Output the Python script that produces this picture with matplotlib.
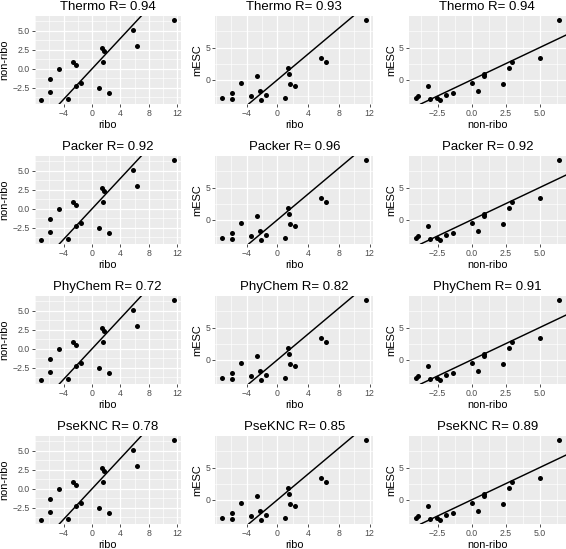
import matplotlib
matplotlib.use("Agg")
import matplotlib.pyplot as plt
from matplotlib.ticker import FixedLocator, FixedFormatter

# ---- data ----
ribo    = [-7.15, -5.9, -5.9, -4.72, -3.44, -2.72, -2.28, -2.2, -1.5, 0.95, 1.33, 1.68, 1.52, 2.33, 5.72, 6.32, 11.55]
nonribo = [-4.1, -3.1, -1.4, 0.0, -3.92, 0.92, 0.46, -2.32, -1.89, -2.54, 2.72, 2.28, 0.93, -3.18, 5.04, 2.94, 6.4]
mesc    = [-2.82, -2.97, -2.06, -0.47, -2.47, 0.63, -1.74, -3.13, -2.29, -2.81, 1.84, -0.69, 0.96, -0.92, 3.44, 2.81, 9.27]

methods = ["Thermo", "Packer", "PhyChem", "PseKNC"]
r_values = [[0.94, 0.93, 0.94],
            [0.92, 0.96, 0.92],
            [0.72, 0.82, 0.91],
            [0.78, 0.85, 0.89]]

pairs = [("ribo", "non-ribo"), ("ribo", "mESC"), ("non-ribo", "mESC")]
series = {"ribo": ribo, "non-ribo": nonribo, "mESC": mesc}
major = {"ribo": [-4, 0, 4, 8, 12], "non-ribo": [-2.5, 0.0, 2.5, 5.0], "mESC": [0, 5]}
minor = {"ribo": [-8, -6, -2, 2, 6, 10], "non-ribo": [-3.75, -1.25, 1.25, 3.75, 6.25], "mESC": [-2.5, 2.5, 7.5]}
labels = {"ribo": ["\u22124", "0", "4", "8", "12"],
          "non-ribo": ["\u22122.5", "0.0", "2.5", "5.0"],
          "mESC": ["0", "5"]}

plt.rcParams['font.family'] = ['Liberation Sans', 'DejaVu Sans']

W, H = 566, 549
fig = plt.figure(figsize=(W / 100, H / 100), dpi=100)

col_left = [34.7, 215.3, 408.8]
col_right = [180.7, 373.3, 565.9]
row_top = [16, 156, 296, 436]
panel_h = 88

def lims(v):
    lo, hi = min(v), max(v)
    d = (hi - lo) * 0.05
    return lo - d, hi + d

for i, m in enumerate(methods):
    for j, (xn, yn) in enumerate(pairs):
        l, r = col_left[j], col_right[j]
        t = row_top[i]
        ax = fig.add_axes([l / W, 1 - (t + panel_h) / H, (r - l) / W, panel_h / H])
        ax.set_facecolor("#EBEBEB")
        for s in ax.spines.values():
            s.set_visible(False)
        x = series[xn]
        y = series[yn]
        ax.set_xlim(*lims(x))
        ax.set_ylim(*lims(y))
        ax.xaxis.set_major_locator(FixedLocator(major[xn]))
        ax.xaxis.set_major_formatter(FixedFormatter(labels[xn]))
        ax.yaxis.set_major_locator(FixedLocator(major[yn]))
        ax.yaxis.set_major_formatter(FixedFormatter(labels[yn]))
        ax.xaxis.set_minor_locator(FixedLocator(minor[xn]))
        ax.yaxis.set_minor_locator(FixedLocator(minor[yn]))
        ax.grid(True, which="major", color="white", linewidth=0.9)
        ax.grid(True, which="minor", color="white", linewidth=0.45)
        ax.set_axisbelow(True)
        ax.tick_params(which="major", length=2.0, width=0.6, color="#333333",
                       labelsize=6.3, labelcolor="#4D4D4D", pad=1.6)
        ax.tick_params(which="minor", length=0)
        ax.plot(x, y, "o", color="black", markersize=3.6, markeredgewidth=0, zorder=3)
        ax.axline((0, 0), slope=1, color="black", linewidth=1.05, zorder=2)
        ax.set_xlabel(xn, fontsize=7.9, labelpad=1.3)
        ax.set_ylabel(yn, fontsize=7.9, labelpad=2.0)
        ax.set_title(f"{m} R= {r_values[i][j]:.2f}", fontsize=9.5, pad=4.6)

fig.savefig("out.png", dpi=100)
